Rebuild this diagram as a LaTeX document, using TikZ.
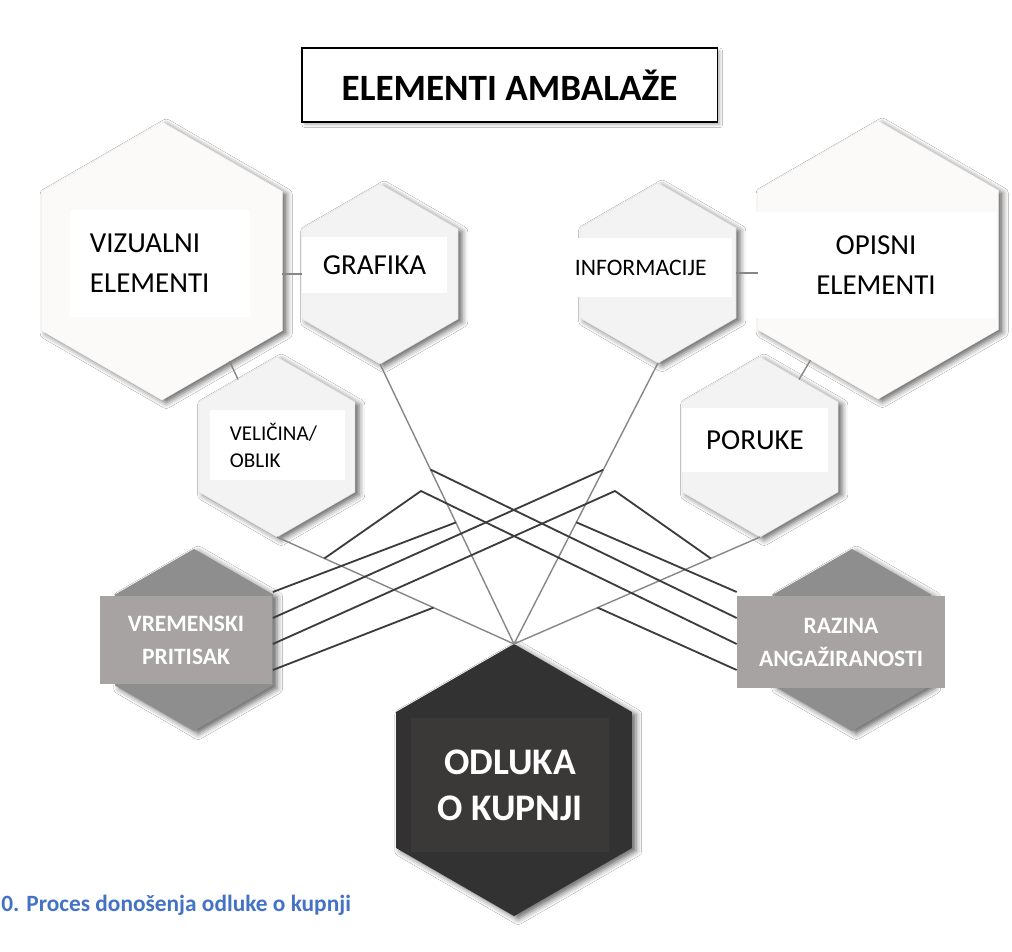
\documentclass[tikz,border=0pt]{standalone}
\usepackage{fontspec}
\setmainfont{Carlito}
\usetikzlibrary{shapes.geometric,calc,backgrounds,shadows.blur}

\definecolor{hexlight}{RGB}{243,243,243}
\definecolor{hexpale}{RGB}{252,250,249}
\definecolor{hexgrey}{RGB}{142,142,142}
\definecolor{boxgrey}{RGB}{166,163,162}
\definecolor{hexdark}{RGB}{50,50,50}
\definecolor{boxdark}{RGB}{58,57,56}
\definecolor{capblue}{RGB}{68,114,196}
\definecolor{linedark}{RGB}{60,60,60}
\definecolor{linelight}{RGB}{135,135,135}

\begin{document}
\begin{tikzpicture}[
        x=0.025cm, y=-0.025cm,
        background rectangle/.style={fill=white},
        show background rectangle,
        inner frame sep=0pt,
        hexagon/.style={
            regular polygon,
            regular polygon sides=6,
            shape border rotate=90,
            inner sep=0pt, outer sep=0pt,
            blur shadow={shadow xshift=3pt, shadow yshift=-2pt,
                shadow blur radius=4pt, shadow opacity=60}
        },
        smallhex/.style={hexagon, minimum size=4.5cm, fill=hexlight, draw=black!10},
        bighex/.style={hexagon, minimum size=6.95cm, fill=hexpale, draw=black!6},
        greyhex/.style={hexagon, minimum size=4.55cm, fill=hexgrey},
        darkhex/.style={hexagon, minimum size=6.8cm, fill=hexdark},
        whitebox/.style={fill=white, inner sep=0pt, align=center},
        greybox/.style={
            fill=boxgrey, inner sep=0pt, align=center, text=white,
            font=\bfseries\fontsize{16.7}{23.5}\selectfont
        },
        bigtext/.style={font=\fontsize{20.6}{28.5}\selectfont},
        link/.style={draw=linelight, line width=1pt},
        moderate/.style={draw=linedark, line width=1.3pt, line join=round}
    ]
    \useasboundingbox (0,0) rectangle (1012,952);

    % naslov
    \node[draw=black, line width=0.8pt, fill=white, minimum width=10.375cm,
        minimum height=1.85cm, font=\bfseries\fontsize{26.4}{30}\selectfont,
        blur shadow={shadow xshift=2pt, shadow yshift=-2pt, shadow opacity=30}]
        (title) at (509.5,85) {ELEMENTI AMBALAŽE};

    % sesterokuti
    \node[bighex] (vizhex) at (162,261) {};
    \node[bighex] (opishex) at (878,260) {};
    \node[smallhex] (grafhex) at (380,274) {};
    \node[smallhex] (infohex) at (658,273) {};
    \node[smallhex] (velhex) at (277,447) {};
    \node[smallhex] (poruhex) at (760,447) {};
    \node[greyhex] (vremhex) at (194,640) {};
    \node[greyhex] (razhex) at (852,640) {};
    \node[darkhex] (odlhex) at (514,780) {};

    % natpisi
    \node[whitebox, bigtext, minimum width=4.5cm, minimum height=2.675cm,
        text width=3.5cm, align=left] (vizbox) at (160,263.5) {VIZUALNI\\ELEMENTI};
    \node[whitebox, bigtext, minimum width=6cm, minimum height=2.65cm]
        (opisbox) at (876,265) {OPISNI\\ELEMENTI};
    \node[whitebox, bigtext, minimum width=3.625cm, minimum height=1.4cm]
        (grafbox) at (374.5,265) {GRAFIKA};
    \node[whitebox, font=\fontsize{16.8}{20}\selectfont, minimum width=4cm,
        minimum height=1.475cm, text width=3.85cm, align=left]
        (infobox) at (652,267.5) {INFORMACIJE};
    \node[whitebox, font=\fontsize{15}{19.2}\selectfont, minimum width=3.375cm,
        minimum height=1.75cm, text width=2.375cm, align=left]
        (velbox) at (277.5,445) {VELIČINA/\\OBLIK};
    \node[whitebox, bigtext, minimum width=3.65cm, minimum height=1.6cm]
        (porubox) at (755,440) {PORUKE};
    \node[greybox, minimum width=4.3cm, minimum height=2.2cm]
        (vrembox) at (186,640) {VREMENSKI\\PRITISAK};
    \node[greybox, minimum width=5.2cm, minimum height=2.3cm]
        (razbox) at (841,642) {RAZINA\\ANGAŽIRANOSTI};
    \node[fill=boxdark, inner sep=0pt, align=center, text=white,
        font=\bfseries\fontsize{26.7}{32.7}\selectfont,
        minimum width=4.95cm, minimum height=3.325cm]
        (odlbox) at (510,785) {ODLUKA\\O KUPNJI};

    % veze elemenata
    \draw[link] (vizhex.east |- grafhex.west) -- (grafhex.west);
    \draw[link] (vizhex.-56) -- (velhex.120);
    \draw[link] (infohex.east) -- (infohex.east -| opishex.west);
    \draw[link] (opishex.-124) -- (poruhex.60);
    \draw[link] (grafhex.south) -- (odlhex.north);
    \draw[link] (infohex.south) -- (odlhex.north);
    \draw[link] (velhex.south) -- (odlhex.north);
    \draw[link] (poruhex.south) -- (odlhex.north);

    % tocke na vezama
    \coordinate (gR) at ($(grafhex.south)!0.377!(odlhex.north)$);
    \coordinate (gT) at ($(grafhex.south)!0.566!(odlhex.north)$);
    \coordinate (iT) at ($(infohex.south)!0.38!(odlhex.north)$);
    \coordinate (iR) at ($(infohex.south)!0.567!(odlhex.north)$);
    \coordinate (vR) at ($(velhex.south)!0.2!(odlhex.north)$);
    \coordinate (vT) at ($(velhex.south)!0.66!(odlhex.north)$);
    \coordinate (pT) at ($(poruhex.south)!0.2!(odlhex.north)$);
    \coordinate (pR) at ($(poruhex.south)!0.66!(odlhex.north)$);
    \coordinate (tpeak) at (615,491);
    \coordinate (rpeak) at (421,491);

    \coordinate (t1) at ($(vremhex.east)+(0,-48)$);
    \coordinate (t2) at ($(vremhex.east)+(0,-22)$);
    \coordinate (t3) at ($(vremhex.east)+(0,4)$);
    \coordinate (t4) at ($(vremhex.east)+(0,30)$);
    \coordinate (r1) at ($(razbox.west)+(0,-50)$);
    \coordinate (r2) at ($(razbox.west)+(0,-24)$);
    \coordinate (r3) at ($(razbox.west)+(0,2)$);
    \coordinate (r4) at ($(razbox.west)+(0,28)$);

    % vremenski pritisak
    \draw[moderate] (t1) -- (gT);
    \draw[moderate] (t2) -- (iT);
    \draw[moderate] (t3) -- (tpeak) -- (pT);
    \draw[moderate] (t4) -- (vT);
    % razina angaziranosti
    \draw[moderate] (r1) -- (iR);
    \draw[moderate] (r2) -- (gR);
    \draw[moderate] (r3) -- (rpeak) -- (vR);
    \draw[moderate] (r4) -- (pR);

    % opis slike
    \node[anchor=base west, inner sep=0pt, text=capblue,
        font=\bfseries\fontsize{16.6}{19}\selectfont]
        (caption) at (1,911) {0. Proces donošenja odluke o kupnji};
\end{tikzpicture}
\end{document}
